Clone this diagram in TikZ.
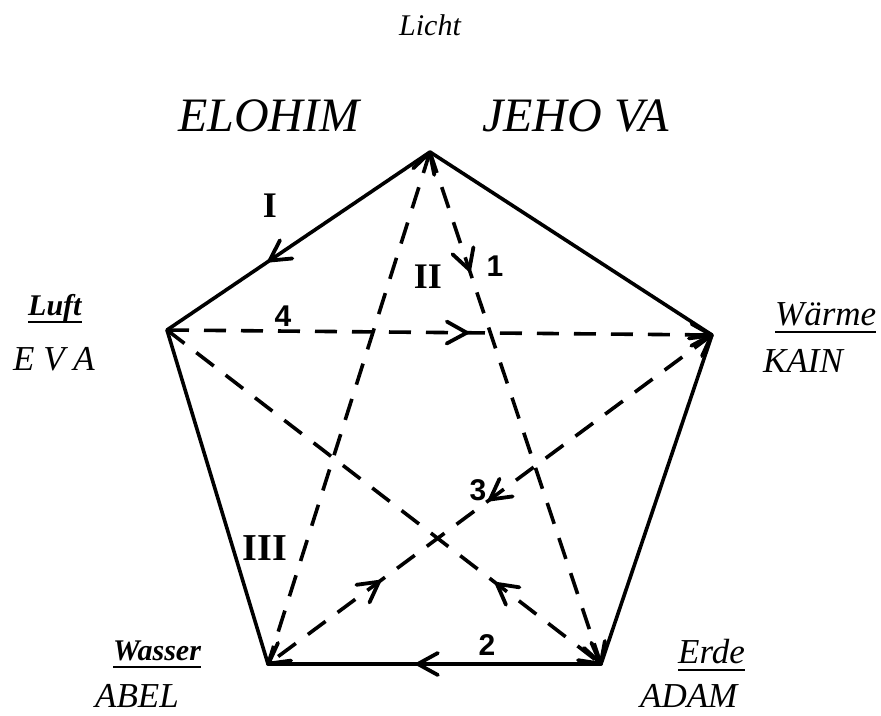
\documentclass[tikz,border=0pt]{standalone}
\usepackage{fontspec}
\setmainfont{Liberation Serif}
\newfontfamily\numfont{Liberation Sans}
\usetikzlibrary{decorations.markings}
\begin{document}
\begin{tikzpicture}[x=1pt,y=-1pt,
  edge/.style={line width=3.6pt,line cap=round},
  dline/.style={line width=3.6pt,dash pattern=on 22pt off 15pt},
  fwd/.style={postaction={decorate,decoration={markings,mark=at position #1 with {\draw[solid,line width=3.8pt,line cap=round,line join=round] (-20pt,11pt)--(0,0)--(-20pt,-11pt);}}}},
  bwd/.style={postaction={decorate,decoration={markings,mark=at position #1 with {\draw[solid,line width=3.8pt,line cap=round,line join=round] (20pt,11pt)--(0,0)--(20pt,-11pt);}}}},
  lbl/.style={inner sep=0pt,font=\itshape\fontsize{35}{37}\selectfont},
  ulbl/.style={inner sep=0pt,font=\bfseries\itshape\fontsize{30}{32}\selectfont},
  big/.style={inner sep=0pt,font=\itshape\fontsize{48}{50}\selectfont},
  roman/.style={inner sep=0pt,font=\bfseries\fontsize{36}{38}\selectfont},
  num/.style={inner sep=0pt,font=\numfont\bfseries\fontsize{30}{32}\selectfont},
]
\useasboundingbox (0,0) rectangle (881,715);
\fill[white] (0,0) rectangle (881,715);

% vertices
\coordinate (T) at (430,152);
\coordinate (L) at (167,330);
\coordinate (R) at (712,335);
\coordinate (BL) at (268,664);
\coordinate (BR) at (601,664);

% solid pentagon
\draw[edge,fwd=0.61] (T) -- (L);
\draw[edge] (T) -- (R);
\draw[edge] (R) -- (BR);
\draw[edge] (L) -- (BL);
\draw[edge,fwd=0.55] (BR) -- (BL);

% dashed star
\draw[dline,fwd=0.55,fwd=0.999] (L) -- (R);
\draw[dline,fwd=0.23,fwd=0.999] (T) -- (BR);
\draw[dline,bwd=0.001] (T) -- (BL);
\draw[dline,fwd=0.5,bwd=0.75,bwd=0.001,fwd=0.999] (R) -- (BL);
\draw[dline,bwd=0.76,fwd=0.999] (L) -- (BR);

% text
\node[inner sep=0pt,font=\itshape\fontsize{30}{32}\selectfont,anchor=base] (licht) at (430,35) {Licht};
\node[big,anchor=base west] (elohim) at (178,131) {ELOHIM};
\node[big,anchor=base west] (jehova) at (482,131) {JEHO VA};

\node[ulbl,anchor=base west] (luft) at (28,315) {Luft};
\draw[line width=2pt] ([yshift=-7pt]luft.base west) -- ([yshift=-7pt]luft.base east);
\node[lbl,anchor=base west] (eva) at (13,370) {E V A};

\node[lbl,anchor=base west] (waerme) at (775,325) {Wärme};
\draw[line width=2pt] ([yshift=-7pt]waerme.base west) -- ([yshift=-7pt]waerme.base east);
\node[lbl,anchor=base west] (kain) at (763,372) {KAIN};

\node[ulbl,anchor=base west] (wasser) at (113,660) {Wasser};
\draw[line width=2.4pt] ([yshift=-7pt]wasser.base west) -- ([yshift=-7pt]wasser.base east);
\node[lbl,anchor=base west] (abel) at (95,707) {ABEL};

\node[lbl,anchor=base west] (erde) at (678,663) {Erde};
\draw[line width=2pt] ([yshift=-7pt]erde.base west) -- ([yshift=-7pt]erde.base east);
\node[lbl,anchor=base west] (adam) at (640,707) {ADAM};

% numerals
\node[roman] (r1) at (270,206) {I};
\node[roman] (r2) at (428,277) {II};
\node[roman,font=\bfseries\fontsize{38}{40}\selectfont] (r3) at (265,548) {III};
\node[num] (n1) at (495,266) {1};
\node[num] (n4) at (283,316) {4};
\node[num] (n3) at (478,490) {3};
\node[num] (n2) at (487,645) {2};
\end{tikzpicture}
\end{document}
